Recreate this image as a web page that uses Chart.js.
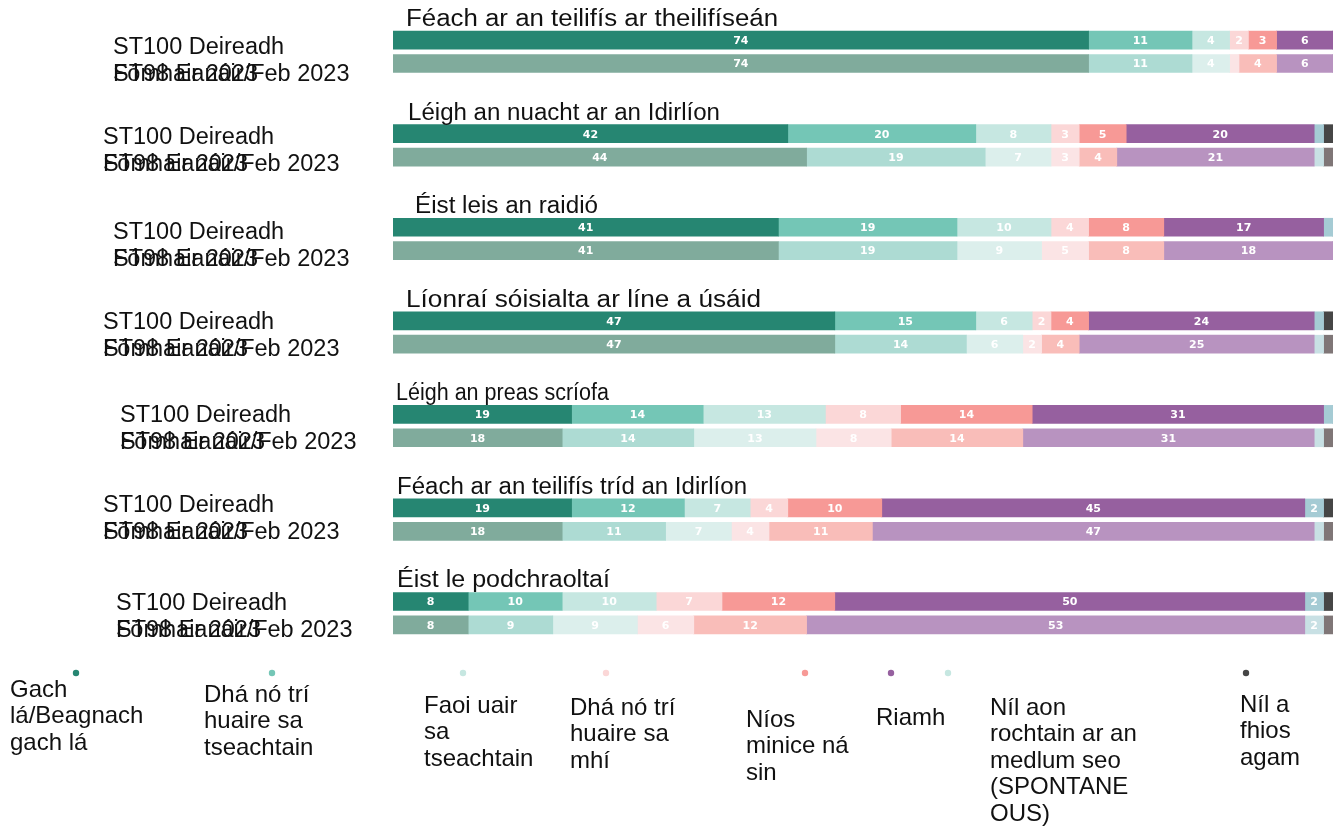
<!DOCTYPE html>
<html lang="ga">
<head>
<meta charset="UTF-8">
<title>Úsáid na meán</title>
<script src="https://cdn.jsdelivr.net/npm/chart.js"></script>
<style>
  html, body { margin: 0; padding: 0; background: #fff; }
  #wrap { width: 1340px; height: 833px; }
</style>
</head>
<body>
<div id="wrap"><canvas id="mediaChart" width="1340" height="833"></canvas></div>
<script>
// --- data ---
const groups = [
  'Féach ar an teilifís ar theilifíseán',
  'Léigh an nuacht ar an Idirlíon',
  'Éist leis an raidió',
  'Líonraí sóisialta ar líne a úsáid',
  'Léigh an preas scríofa',
  'Féach ar an teilifís tríd an Idirlíon',
  'Éist le podchraoltaí'
];
const waveTop = ['ST100 Deireadh', 'Fómhair 2023'];
const waveBottom = 'ST98 Eanáir/Feb 2023';

const responses = [
  'Gach lá/Beagnach gach lá',
  'Dhá nó trí huaire sa tseachtain',
  'Faoi uair sa tseachtain',
  'Dhá nó trí huaire sa mhí',
  'Níos minice ná sin',
  'Riamh',
  'Níl aon rochtain ar an medlum seo (SPONTANEOUS)',
  'Níl a fhios agam'
];
const legendLines = [
  ['Gach', 'lá/Beagnach', 'gach lá'],
  ['Dhá nó trí', 'huaire sa', 'tseachtain'],
  ['Faoi uair', 'sa', 'tseachtain'],
  ['Dhá nó trí', 'huaire sa', 'mhí'],
  ['Níos', 'minice ná', 'sin'],
  ['Riamh'],
  ['Níl aon', 'rochtain ar an', 'medlum seo', '(SPONTANE', 'OUS)'],
  ['Níl a', 'fhios', 'agam']
];

// one row per group, one value per response (%)
const st100 = [
  [74, 11, 4, 2, 3, 6, 0, 0],
  [42, 20, 8, 3, 5, 20, 1, 1],
  [41, 19, 10, 4, 8, 17, 1, 0],
  [47, 15, 6, 2, 4, 24, 1, 1],
  [19, 14, 13, 8, 14, 31, 1, 0],
  [19, 12, 7, 4, 10, 45, 2, 1],
  [8, 10, 10, 7, 12, 50, 2, 1]
];
const st98 = [
  [74, 11, 4, 1, 4, 6, 0, 0],
  [44, 19, 7, 3, 4, 21, 1, 1],
  [41, 19, 9, 5, 8, 18, 0, 0],
  [47, 14, 6, 2, 4, 25, 1, 1],
  [18, 14, 13, 8, 14, 31, 1, 1],
  [18, 11, 7, 4, 11, 47, 1, 1],
  [8, 9, 9, 6, 12, 53, 2, 1]
];

// --- colours ---
const coloursTop = ['#268672', '#74c6b6', '#c6e7e1', '#fbd7d7', '#f79996', '#96609f', '#a5cbd4', '#464646'];
const coloursBottom = ['#80ab9c', '#addbd3', '#dcefec', '#fbe4e5', '#f9bdb9', '#b893c0', '#c8e0e4', '#7f7677'];
const legendDots = ['#268672', '#74c6b6', '#c6e7e1', '#fbd7d7', '#f79996', '#96609f', '#c6e7e1', '#464646'];

// --- layout (pixels) ---
const FONT = 'Arial, "Liberation Sans", Helvetica, sans-serif';
const waveLabelX = [113, 103, 113, 103, 120, 103, 116];
const waveLabelDY = [7, 4, 5, 2, 1, -2, 2];
const titleX = [406, 408, 415, 406, 396, 397, 397];
const titleWidth = [372, 312, 183, 355, 213, 350, 213]; // titles are stretched sideways in the source
const legendDotX = [76, 272, 463, 606, 805, 891, 948, 1246];
const legendTextX = [10, 204, 424, 570, 746, 876, 990, 1240];
const legendTextY = [690, 695, 706, 708, 720, 718, 708, 705];

// each group takes four rows: title, ST100 bar, ST98 bar, gap
const rowLabels = [];
groups.forEach(g => {
  rowLabels.push(g, g + ' ST100', g + ' ST98', g + ' gap');
});

const datasets = responses.map((r, k) => {
  const data = [];
  const bg = [];
  groups.forEach((g, i) => {
    data.push(null, st100[i][k], st98[i][k], null);
    bg.push('#fff', coloursTop[k], coloursBottom[k], '#fff');
  });
  return { label: r, data: data, backgroundColor: bg, borderWidth: 0, barThickness: 18 };
});

const textPlugin = {
  id: 'textPlugin',
  afterDatasetsDraw(chart) {
    const ctx = chart.ctx;
    const yScale = chart.scales.y;
    ctx.save();

    // values inside the segments
    ctx.font = 'bold 11px "DejaVu Sans"';
    ctx.fillStyle = '#ffffff';
    ctx.textAlign = 'center';
    ctx.textBaseline = 'middle';
    chart.data.datasets.forEach((ds, i) => {
      chart.getDatasetMeta(i).data.forEach((bar, j) => {
        const v = ds.data[j];
        if (v == null || v < 2) return;
        ctx.fillText(String(v), (bar.x + bar.base) / 2, bar.y + 1);
      });
    });

    // group titles and wave labels (the two wave labels overlap, as in the source)
    ctx.fillStyle = '#111';
    ctx.textAlign = 'left';
    groups.forEach((g, i) => {
      const yTitle = yScale.getPixelForValue(i * 4);
      const yTop = yScale.getPixelForValue(i * 4 + 1);
      ctx.font = '23px ' + FONT;
      const sx = titleWidth[i] / ctx.measureText(g).width;
      ctx.save();
      ctx.translate(titleX[i], yTitle + 3);
      ctx.scale(sx, 1);
      ctx.fillText(g, 0, 0);
      ctx.restore();
      ctx.font = '23.5px ' + FONT;
      const y1 = yTop + waveLabelDY[i];
      ctx.fillText(waveTop[0], waveLabelX[i], y1);
      ctx.fillText(waveTop[1], waveLabelX[i], y1 + 27);
      ctx.fillText(waveBottom, waveLabelX[i], y1 + 27);
    });

    // legend
    ctx.font = '24px ' + FONT;
    responses.forEach((r, k) => {
      ctx.fillStyle = legendDots[k];
      ctx.beginPath();
      ctx.arc(legendDotX[k], 673, 3.2, 0, Math.PI * 2);
      ctx.fill();
      ctx.fillStyle = '#111';
      legendLines[k].forEach((line, n) => {
        ctx.fillText(line, legendTextX[k], legendTextY[k] + n * 26.5);
      });
    });
    ctx.restore();
  }
};

new Chart(document.getElementById('mediaChart'), {
  type: 'bar',
  data: { labels: rowLabels, datasets: datasets },
  options: {
    indexAxis: 'y',
    responsive: false,
    animation: false,
    layout: { padding: { left: 393, right: 7, top: 5, bottom: 173 } },
    plugins: { legend: { display: false }, tooltip: { enabled: false } },
    scales: {
      x: { stacked: true, min: 0, max: 100, display: false },
      y: { stacked: true, display: false }
    }
  },
  plugins: [textPlugin]
});
</script>
</body>
</html>
